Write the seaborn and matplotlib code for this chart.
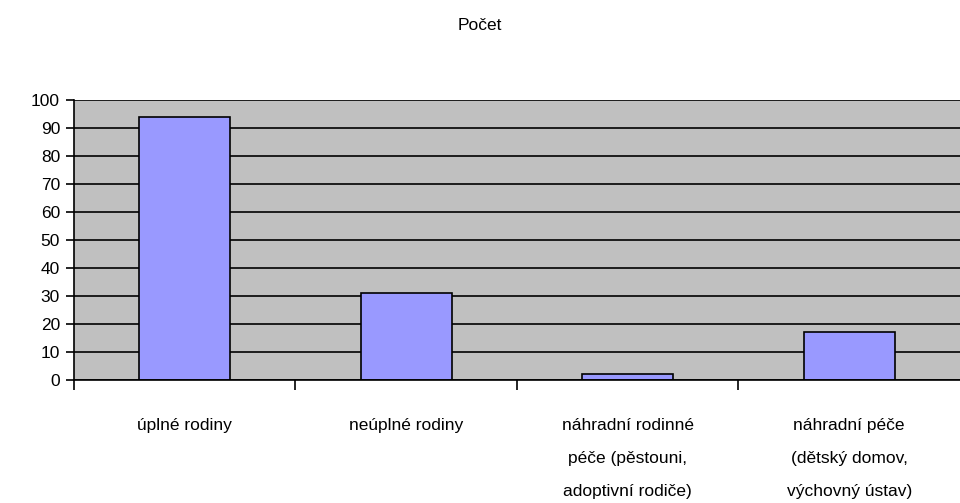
import matplotlib
matplotlib.use("Agg")
import matplotlib.pyplot as plt
import seaborn as sns
import pandas as pd

categories = [
    "úplné rodiny",
    "neúplné rodiny",
    "náhradní rodinné\npéče (pěstouni,\nadoptivní rodiče)",
    "náhradní péče\n(dětský domov,\nvýchovný ústav)",
]
counts = [94, 31, 2, 17]
y_ticks = list(range(0, 101, 10))

sns.set_style("white")
plt.rcParams["font.family"] = ["Liberation Sans", "DejaVu Sans"]
plt.rcParams["text.color"] = "black"
plt.rcParams["xtick.color"] = "black"
plt.rcParams["ytick.color"] = "black"

df = pd.DataFrame({"kategorie": categories, "pocet": counts})

fig = plt.figure(figsize=(9.6, 5.03), dpi=100)
ax = fig.add_axes([0.077, 0.2445, 0.923, 0.5565])
ax.set_facecolor("#C0C0C0")

sns.barplot(data=df, x="kategorie", y="pocet", color="#9999FF",
            edgecolor="black", linewidth=1.2, width=0.41, saturation=1, ax=ax)

ax.set_ylim(0, 100)
ax.set_xlim(-0.5, 3.5)
ax.set_yticks(y_ticks)
ax.yaxis.grid(True, color="black", linewidth=1.2)
ax.set_axisbelow(True)

for s in ["top", "right"]:
    ax.spines[s].set_visible(False)
ax.spines["left"].set_color("black")
ax.spines["bottom"].set_color("black")
ax.spines["left"].set_linewidth(1.2)
ax.spines["bottom"].set_linewidth(1.2)

ax.tick_params(axis="y", left=True, length=6, width=1.2, labelsize=12.5, pad=4,
               color="black", labelcolor="black")
ax.tick_params(axis="x", which="major", bottom=False, labelsize=12.5, pad=24,
               labelcolor="black")
ax.set_xticks([-0.5, 0.5, 1.5, 2.5], minor=True)
ax.tick_params(axis="x", which="minor", bottom=True, length=7, width=1.2, color="black")
for lbl in ax.get_xticklabels():
    lbl.set_linespacing(2.5)
    lbl.set_va("top")

ax.set_xlabel("")
ax.set_ylabel("")

fig.text(0.5, 1 - 25 / 503, "Počet", ha="center", va="center", fontsize=12.5,
         color="black")

fig.savefig("out.png", dpi=100)
